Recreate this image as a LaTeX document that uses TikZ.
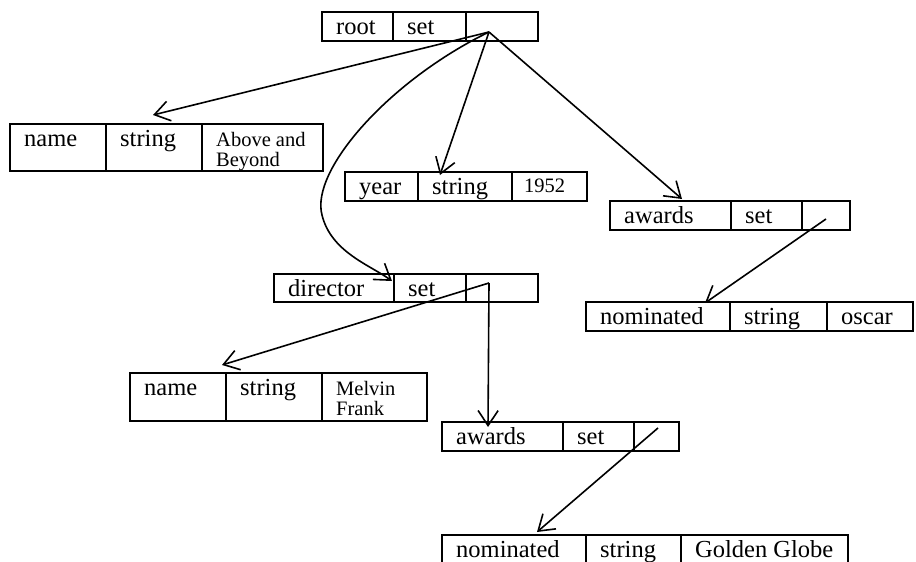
\documentclass[tikz,border=0pt]{standalone}
\usepackage{fontspec}
\setmainfont{Liberation Serif}
\usetikzlibrary{arrows.meta,calc}
\tikzset{
  cellbox/.style={draw, line width=1.9pt, inner sep=0pt, outer sep=0pt, anchor=north west},
  txt/.style={anchor=base west, inner sep=0pt, font=\fontsize{24.5}{27}\selectfont},
  smalltxt/.style={anchor=base west, inner sep=0pt, font=\fontsize{20.5}{22}\selectfont},
  ptr/.style={line width=1.6pt, -{Straight Barb[length=15pt,width=20pt,line width=1.6pt]}},
}
% name, x0, x1, ytop, ybot, text style, text
\newcommand\reccell[7]{%
  \node[cellbox, minimum width={#3pt-#2pt}, minimum height={#5pt-#4pt}] (#1) at (#2,#4) {};
  \node[#6] (#1t) at ($(#1.north west)+(14,22.5)$) {#7};
}
\begin{document}
\begin{tikzpicture}[x=1pt,y=-1pt]
\useasboundingbox (0,0) rectangle (916,562);
\clip (0,0) rectangle (916,562);

% root
\reccell{rootA}{322}{393}{12}{41}{txt}{root}
\reccell{rootB}{393}{466}{12}{41}{txt}{set}
\reccell{rootC}{466}{538}{12}{41}{txt}{}

% name (movie)
\reccell{nameA}{10}{106}{124}{171}{txt}{name}
\reccell{nameB}{106}{202}{124}{171}{txt}{string}
\reccell{nameC}{202}{323}{124}{171}{smalltxt}{Above and}
\node[smalltxt] (nameCt2) at ($(nameC.north west)+(14,42)$) {Beyond};

% year
\reccell{yearA}{345}{418}{172}{201}{txt}{year}
\reccell{yearB}{418}{512}{172}{201}{txt}{string}
\node[cellbox, minimum width=75pt, minimum height=29pt] (yearC) at (512,172) {};
\node[smalltxt] (yearCt) at ($(yearC.north west)+(12,20)$) {1952};

% awards (movie)
\reccell{awA}{610}{731}{201}{230}{txt}{awards}
\reccell{awB}{731}{802}{201}{230}{txt}{set}
\reccell{awC}{802}{850}{201}{230}{txt}{}

% director
\reccell{dirA}{274}{394}{274}{302}{txt}{director}
\reccell{dirB}{394}{466}{274}{302}{txt}{set}
\reccell{dirC}{466}{538}{274}{302}{txt}{}

% nominated oscar
\reccell{nomA}{586}{730}{302}{331}{txt}{nominated}
\reccell{nomB}{730}{827}{302}{331}{txt}{string}
\reccell{nomC}{827}{913}{302}{331}{txt}{oscar}

% name (director)
\reccell{dnA}{130}{226}{373}{421}{txt}{name}
\reccell{dnB}{226}{322}{373}{421}{txt}{string}
\reccell{dnC}{322}{427}{373}{421}{smalltxt}{Melvin}
\node[smalltxt] (dnCt2) at ($(dnC.north west)+(14,42)$) {Frank};

% awards (director)
\reccell{daA}{442}{563}{422}{451}{txt}{awards}
\reccell{daB}{563}{634}{422}{451}{txt}{set}
\reccell{daC}{634}{679}{422}{451}{txt}{}

% nominated golden globe
\reccell{dnoA}{442}{586}{535}{565}{txt}{nominated}
\reccell{dnoB}{586}{681}{535}{565}{txt}{string}
\reccell{dnoC}{681}{848}{535}{565}{txt}{Golden Globe}

% pointer origins and tips
\coordinate (rootP) at (489,32);
\coordinate (dirP) at (489,283);
\coordinate (awP) at (826,219);
\coordinate (daP) at (658,428);

\coordinate (nameTip) at (153,115);
\coordinate (yearTip) at (440,175);
\coordinate (awTip) at (682,199);
\coordinate (dirTip) at (392,281);
\coordinate (dnTip) at (222,365);
\coordinate (daTip) at (488,427);
\coordinate (nomTip) at (705,303);
\coordinate (dnoTip) at (537,532);

\draw[ptr] (rootP) -- (nameTip);
\draw[ptr] (rootP) -- (yearTip);
\draw[ptr] (rootP) -- (awTip);
\draw[ptr] (rootP) .. controls (390,80) and (310,170) .. (322,215)
                   .. controls (331,252) and (370,265) .. (dirTip);
\draw[ptr] (dirP) -- (dnTip);
\draw[ptr] (dirP) -- (daTip);
\draw[ptr] (awP) -- (nomTip);
\draw[ptr] (daP) -- (dnoTip);
\end{tikzpicture}
\end{document}
